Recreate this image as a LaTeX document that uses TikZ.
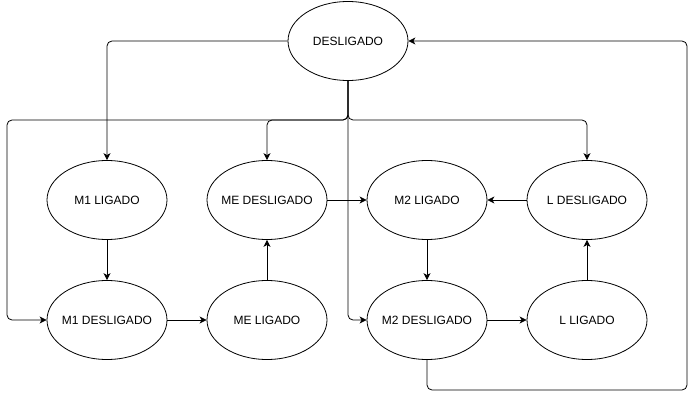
\documentclass[tikz,border=0pt]{standalone}
\usepackage{fontspec}
\setmainfont{Liberation Sans}
\usetikzlibrary{shapes.geometric,arrows.meta}
\begin{document}
\begin{tikzpicture}[x=1pt, y=-1pt, line width=0.8pt,
    estado/.style={ellipse, draw, minimum width=120pt, minimum height=79pt, inner ysep=0pt, inner xsep=-8pt, font=\fontsize{12}{14}\selectfont},
    seta/.style={-{Stealth[length=7pt,width=7pt,inset=2pt]}, rounded corners=5pt}]
  \useasboundingbox (0,0) rectangle (696,409);

  \node[estado] (desl) at (348,41) {DESLIGADO};
  \node[estado] (m1lig) at (107,200) {M1 LIGADO};
  \node[estado] (medesl) at (267,200) {ME DESLIGADO};
  \node[estado] (m2lig) at (427,200) {M2 LIGADO};
  \node[estado] (ldesl) at (587,200) {L DESLIGADO};
  \node[estado] (m1desl) at (107,320) {M1 DESLIGADO};
  \node[estado] (melig) at (267,320) {ME LIGADO};
  \node[estado] (m2desl) at (427,320) {M2 DESLIGADO};
  \node[estado] (llig) at (587,320) {L LIGADO};

  \coordinate (bus) at (348,120);
  \coordinate (esq) at (7,120);
  \coordinate (canto) at (687,390);

  \draw[seta] (desl.west) -| (m1lig.north);
  \draw[seta] (desl.south) |- (esq) |- (m1desl.west);
  \draw[seta] (desl.south) -- (bus) -| (medesl.north);
  \draw[seta] (desl.south) -- (bus) -| (ldesl.north);
  \draw[seta] (desl.south) |- (m2desl.west);

  \draw[seta] (m1lig) -- (m1desl);
  \draw[seta] (m1desl) -- (melig);
  \draw[seta] (melig) -- (medesl);
  \draw[seta] (medesl) -- (m2lig);
  \draw[seta] (m2lig) -- (m2desl);
  \draw[seta] (m2desl) -- (llig);
  \draw[seta] (llig) -- (ldesl);
  \draw[seta] (ldesl) -- (m2lig);

  \draw[seta] (m2desl.south) |- (canto) |- (desl.east);
\end{tikzpicture}
\end{document}
